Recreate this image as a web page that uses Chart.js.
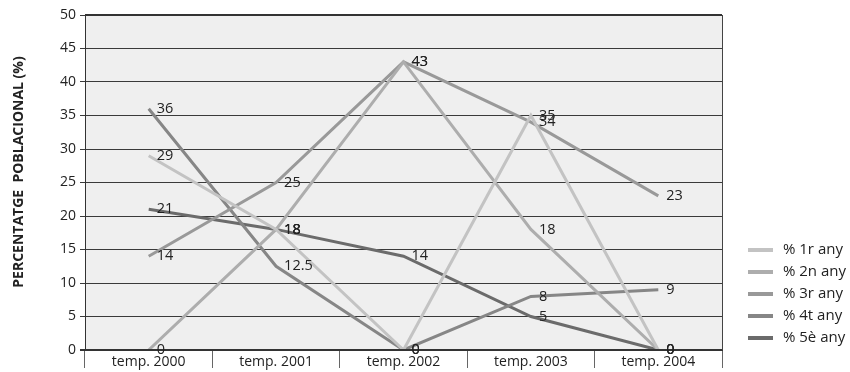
<!DOCTYPE html>
<html>
<head>
<meta charset="utf-8">
<script src="https://cdn.jsdelivr.net/npm/chart.js@4"></script>
<style>
html,body{margin:0;padding:0;background:#fff;}
#wrap{width:850px;height:372px;position:relative;}
</style>
</head>
<body>
<div id="wrap"><canvas id="c" width="850" height="372"></canvas></div>
<script>
const categories = ['temp. 2000', 'temp. 2001', 'temp. 2002', 'temp. 2003', 'temp. 2004'];
const seriesNames = ['% 1r any', '% 2n any', '% 3r any', '% 4t any', '% 5è any'];
const any1 = [29, 18, 0, 35, 0];
const any2 = [0, 18, 43, 18, 0];
const any3 = [14, 25, 43, 34, 23];
const any4 = [36, 12.5, 0, 8, 9];
const any5 = [21, 18, 14, 5, 0];
const seriesColors = ['#c3c3c3', '#adadad', '#999999', '#868686', '#6b6b6b'];
const yTicks = [0, 5, 10, 15, 20, 25, 30, 35, 40, 45, 50];
const yTitle = 'PERCENTATGE  POBLACIONAL (%)';

const FONT = '"Open Sans", "DejaVu Sans", sans-serif';
const values = [any1, any2, any3, any4, any5];
const datasets = values.map((v, i) => ({
  label: seriesNames[i],
  data: v,
  borderColor: seriesColors[i],
  backgroundColor: seriesColors[i],
  borderWidth: 3,
  pointRadius: 0,
  tension: 0,
  fill: false
}));

const bgPlugin = {
  id: 'bg',
  beforeDraw(chart) {
    const {ctx, chartArea: a} = chart;
    ctx.save();
    ctx.fillStyle = '#efefef';
    ctx.fillRect(a.left, a.top, a.right - a.left, a.bottom - a.top);
    ctx.restore();
  },
  afterDatasetsDraw(chart) {
    const {ctx, chartArea: a} = chart;
    ctx.save();
    // borders
    ctx.strokeStyle = '#333';
    ctx.lineWidth = 2;
    ctx.beginPath();
    ctx.moveTo(a.left, a.top); ctx.lineTo(a.right, a.top);
    ctx.stroke();
    ctx.beginPath();
    ctx.moveTo(a.left - 5, a.bottom); ctx.lineTo(a.right, a.bottom);
    ctx.stroke();
    ctx.lineWidth = 1;
    ctx.strokeStyle = '#444';
    ctx.beginPath();
    ctx.moveTo(a.right + 0.5, a.top); ctx.lineTo(a.right + 0.5, a.bottom);
    ctx.stroke();
    // data labels
    ctx.fillStyle = '#222';
    ctx.font = '14.5px ' + FONT;
    ctx.textBaseline = 'middle';
    ctx.textAlign = 'left';
    chart.data.datasets.forEach((ds, di) => {
      const meta = chart.getDatasetMeta(di);
      meta.data.forEach((pt, pi) => {
        ctx.fillText(String(ds.data[pi]), pt.x + 8, pt.y);
      });
    });
    // legend
    const lx = 748, ly = 250, step = 22;
    ctx.font = '15px ' + FONT;
    chart.data.datasets.forEach((ds, di) => {
      const y = ly + di * step;
      ctx.strokeStyle = ds.borderColor;
      ctx.lineWidth = 4;
      ctx.beginPath();
      ctx.moveTo(lx, y); ctx.lineTo(lx + 25, y);
      ctx.stroke();
      ctx.fillStyle = '#222';
      ctx.fillText(ds.label, lx + 35, y);
    });
    // y-axis title
    ctx.translate(19, 172);
    ctx.rotate(-Math.PI / 2);
    ctx.textAlign = 'center';
    ctx.font = 'bold 14px ' + FONT;
    ctx.fillStyle = '#222';
    ctx.fillText(yTitle, 0, 0);
    ctx.restore();
  }
};

new Chart(document.getElementById('c'), {
  type: 'line',
  data: { labels: categories, datasets },
  plugins: [bgPlugin],
  options: {
    responsive: false,
    animation: false,
    layout: { padding: { top: 15, right: 128, left: 0, bottom: 0 } },
    plugins: { legend: { display: false }, tooltip: { enabled: false } },
    scales: {
      x: {
        offset: true,
        grid: { offset: true, drawOnChartArea: false, drawTicks: true, tickLength: 18, color: '#666', lineWidth: 1 },
        border: { display: true, color: '#333', width: 1 },
        ticks: { color: '#222', font: { size: 14, family: FONT }, padding: -14, maxRotation: 0 },
        afterFit(s) { s.height = 22; }
      },
      y: {
        min: 0, max: 50,
        afterBuildTicks(s) { s.ticks = yTicks.map(v => ({ value: v })); },
        grid: { color: '#3a3a3a', lineWidth: 1, drawTicks: true, tickLength: 5 },
        border: { display: true, color: '#333', width: 1 },
        ticks: { color: '#222', font: { size: 14, family: FONT }, padding: 4 },
        afterFit(s) { s.width = 85; }
      }
    }
  }
});
</script>
</body>
</html>
